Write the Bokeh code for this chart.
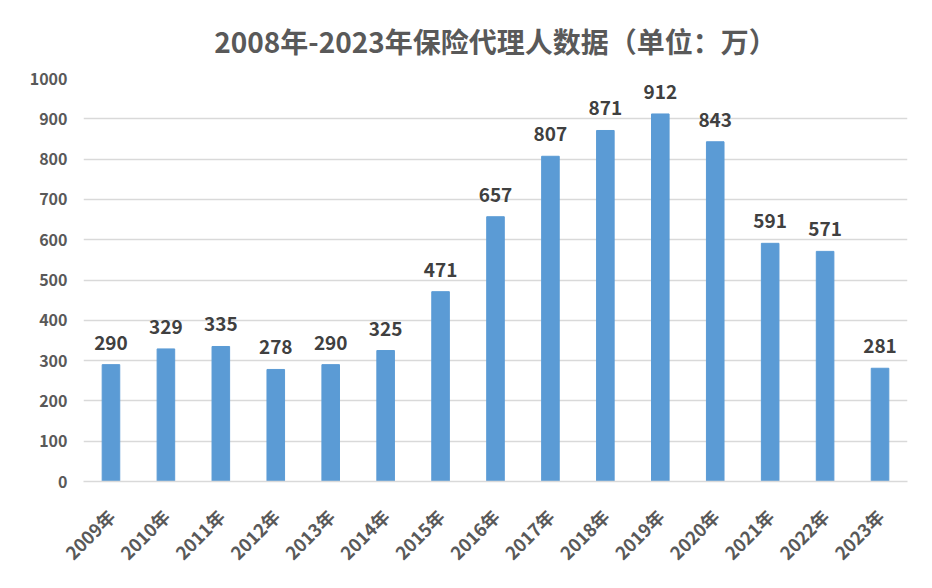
import math
from bokeh.plotting import figure
from bokeh.models import ColumnDataSource, LabelSet
from bokeh.core.properties import value
from bokeh.embed import file_html
from bokeh.resources import INLINE

years = ["2009年", "2010年", "2011年", "2012年", "2013年", "2014年", "2015年", "2016年",
         "2017年", "2018年", "2019年", "2020年", "2021年", "2022年", "2023年"]
agents = [290, 329, 335, 278, 290, 325, 471, 657, 807, 871, 912, 843, 591, 571, 281]
y_ticks = [0, 100, 200, 300, 400, 500, 600, 700, 800, 900, 1000]

FONT = "Noto Sans CJK SC"
GREY = "#595959"

src = ColumnDataSource(dict(x=years, y=agents, lbl=[str(v) for v in agents]))

p = figure(x_range=years, y_range=(0, 1000), width=916, height=576,
           output_backend="svg", toolbar_location=None,
           title="2008年-2023年保险代理人数据（单位：万）",
           min_border_left=83, min_border_right=9, min_border_bottom=91,
           min_border_top=10)

p.title.align = "center"
p.title.offset = -32
p.title.text_font = FONT
p.title.text_font_size = "28px"
p.title.text_font_style = "bold"
p.title.text_color = GREY
p.title.standoff = 36

p.vbar(x="x", top="y", width=0.32, source=src, color="#5B9BD5")

labels = LabelSet(x="x", y="y", text="lbl", source=src, text_align="center",
                  y_offset=15, text_font=value(FONT), text_font_size=value("19px"),
                  text_font_style="bold", text_color="#404040")
p.add_layout(labels)

p.outline_line_color = None
p.xgrid.grid_line_color = None
p.ygrid.grid_line_color = "#d9d9d9"
p.ygrid.grid_line_width = 1.3
p.yaxis.ticker = y_ticks
p.yaxis.axis_line_color = None
p.yaxis.major_tick_line_color = None
p.yaxis.minor_tick_line_color = None
p.yaxis.major_label_text_font = FONT
p.yaxis.major_label_text_font_size = "16px"
p.yaxis.major_label_text_font_style = "bold"
p.yaxis.major_label_text_color = GREY
p.yaxis.major_label_standoff = 10

p.xaxis.axis_line_color = "#d9d9d9"
p.xaxis.axis_line_width = 1.3
p.xaxis.major_tick_line_color = None
p.xaxis.minor_tick_line_color = None
p.xaxis.major_label_orientation = math.pi / 4
p.xaxis.major_label_text_font = FONT
p.xaxis.major_label_text_font_size = "18px"
p.xaxis.major_label_text_font_style = "bold"
p.xaxis.major_label_text_color = GREY
p.xaxis.major_label_standoff = 25
p.x_range.range_padding = 0

open("out.html", "w").write(file_html(p, INLINE))
